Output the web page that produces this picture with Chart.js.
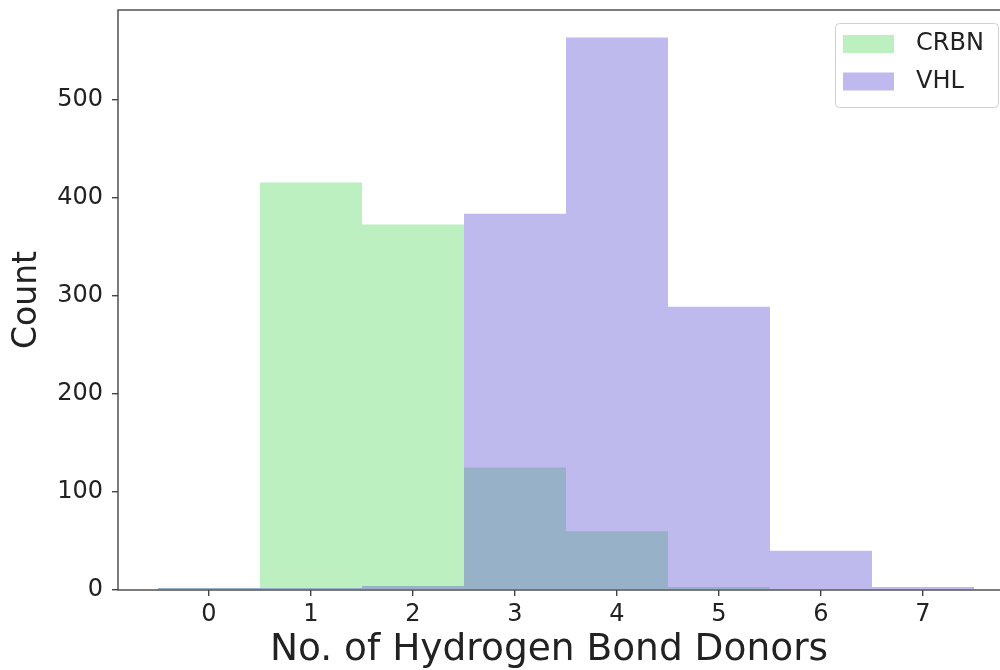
<!DOCTYPE html>
<html>
<head>
<meta charset="utf-8">
<script src="https://cdn.jsdelivr.net/npm/chart.js@4.4.1/dist/chart.umd.min.js"></script>
<style>
  html, body { margin: 0; padding: 0; overflow: hidden; background: #fff; width: 1000px; height: 670px; }
  canvas { display: block; }
</style>
</head>
<body>
<canvas id="c" width="1014" height="670"></canvas>
<script>
// Histogram of hydrogen bond donor counts, one bin per integer
const donorBins = [0, 1, 2, 3, 4, 5, 6, 7];
const crbnCounts = [2, 416, 373, 125, 60, 3, 0, 0];
const vhlCounts = [2, 2, 4, 384, 564, 289, 40, 3];
const seriesNames = ['CRBN', 'VHL'];
const xTickValues = [0, 1, 2, 3, 4, 5, 6, 7];
const yTickValues = [0, 100, 200, 300, 400, 500];
const xAxisLabel = 'No. of Hydrogen Bond Donors';
const yAxisLabel = 'Count';

const FONT = 'DejaVu Sans';
const INK = '#222';
const SPINE = '#444';

const crbnFill = 'rgba(88, 218, 98, 0.4)';
const vhlFill = 'rgba(92, 82, 212, 0.4)';

// Plot box: 118..1013 px wide; x range chosen so bin edges land on whole pixels
const PLOT_W = 895;
const PX_PER_BIN = 102;
const X_MIN = -0.5 - 40 / PX_PER_BIN;
const X_MAX = X_MIN + PLOT_W / PX_PER_BIN;

function toPoints(counts) {
  return donorBins.map((b, i) => ({ x: b, y: counts[i] }));
}

// Axes frame (all four spines) drawn over the bars
const framePlugin = {
  id: 'frame',
  afterDatasetsDraw(chart) {
    const { ctx, chartArea: a } = chart;
    ctx.save();
    ctx.strokeStyle = SPINE;
    ctx.lineWidth = 1.4;
    ctx.strokeRect(a.left, a.top, a.right - a.left, a.bottom - a.top);
    ctx.restore();
  }
};

// x axis caption, centred under the visible part of the figure
const xCaptionPlugin = {
  id: 'xCaption',
  afterDraw(chart) {
    const { ctx } = chart;
    ctx.save();
    ctx.fillStyle = INK;
    ctx.font = '37.5px "' + FONT + '"';
    ctx.textAlign = 'center';
    ctx.textBaseline = 'alphabetic';
    ctx.fillText(xAxisLabel, 549, 660);
    ctx.restore();
  }
};

// Boxed legend in the upper right corner of the plot
const boxLegendPlugin = {
  id: 'boxLegend',
  afterDraw(chart) {
    const { ctx } = chart;
    const x = 835, y = 23, w = 163, h = 84, r = 4;
    ctx.save();
    ctx.beginPath();
    ctx.roundRect(x + 0.5, y + 0.5, w, h, r);
    ctx.fillStyle = 'rgba(255,255,255,0.8)';
    ctx.fill();
    ctx.strokeStyle = '#d0d0d0';
    ctx.lineWidth = 1;
    ctx.stroke();
    chart.data.datasets.forEach((ds, i) => {
      const rowY = y + 12 + i * 37.5;
      ctx.fillStyle = ds.backgroundColor;
      ctx.fillRect(x + 8, rowY, 51, 18);
      ctx.fillStyle = INK;
      ctx.font = '24px "' + FONT + '"';
      ctx.textBaseline = 'middle';
      ctx.textAlign = 'left';
      ctx.fillText(ds.label, x + 81, rowY + 9);
    });
    ctx.restore();
  }
};

new Chart(document.getElementById('c'), {
  type: 'bar',
  data: {
    datasets: [
      { label: seriesNames[0], data: toPoints(crbnCounts), backgroundColor: crbnFill, order: 1 },
      { label: seriesNames[1], data: toPoints(vhlCounts), backgroundColor: vhlFill, order: 0 }
    ]
  },
  options: {
    responsive: false,
    animation: false,
    devicePixelRatio: 1,
    layout: { padding: { top: 10, right: 1, left: 0, bottom: 0 } },
    datasets: {
      bar: { barPercentage: 1, categoryPercentage: 1, grouped: false, borderWidth: 0, inflateAmount: 0 }
    },
    plugins: { legend: { display: false }, tooltip: { enabled: false } },
    scales: {
      x: {
        type: 'linear',
        min: X_MIN,
        max: X_MAX,
        offset: false,
        afterBuildTicks(scale) { scale.ticks = xTickValues.map(v => ({ value: v })); },
        afterFit(scale) { scale.height = 80; scale.paddingLeft = 0; scale.paddingRight = 0; },
        grid: { offset: false, drawOnChartArea: false, drawTicks: true, tickLength: 6, color: SPINE, lineWidth: 1.4 },
        border: { display: false },
        ticks: { font: { family: FONT, size: 24 }, color: INK, padding: 4, maxRotation: 0 },
        title: { display: false }
      },
      y: {
        type: 'linear',
        min: 0,
        max: 592,
        afterBuildTicks(scale) { scale.ticks = yTickValues.map(v => ({ value: v })); },
        afterFit(scale) { scale.width = 118; scale.paddingTop = 0; scale.paddingBottom = 0; },
        grid: { drawOnChartArea: false, drawTicks: true, tickLength: 6, color: SPINE, lineWidth: 1.4 },
        border: { display: false },
        ticks: { font: { family: FONT, size: 24 }, color: INK, padding: 9 },
        title: { display: true, text: yAxisLabel, font: { family: FONT, size: 33 }, color: INK, padding: { top: 8, bottom: 0 } }
      }
    }
  },
  plugins: [framePlugin, xCaptionPlugin, boxLegendPlugin]
});
</script>
</body>
</html>
